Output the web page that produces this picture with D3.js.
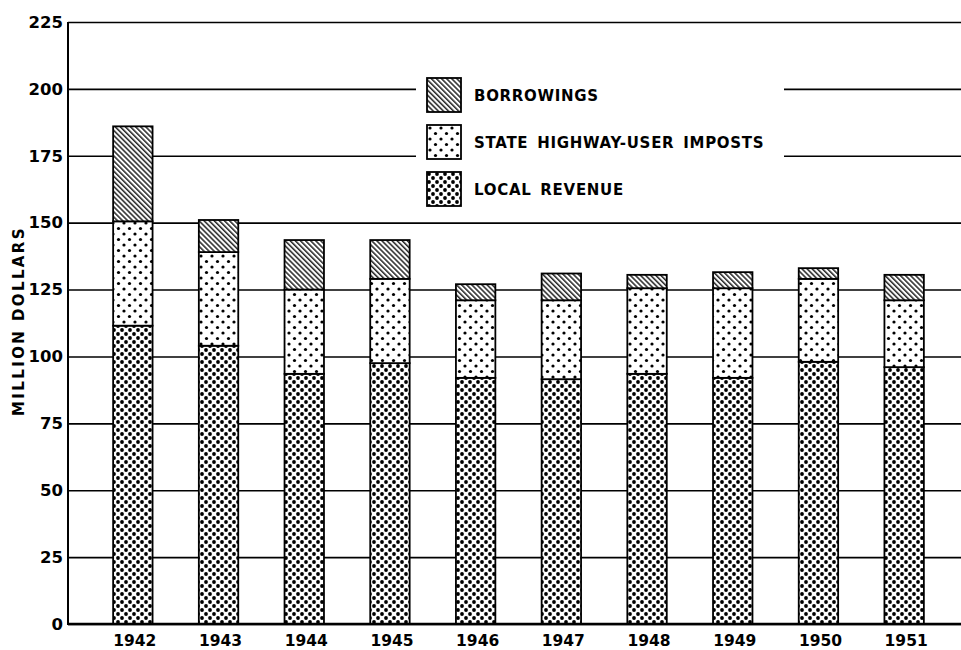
<!DOCTYPE html>
<html>
<head>
  <meta charset="utf-8">
  <title>Highway revenue 1942-1951</title>
  <script src="https://cdn.jsdelivr.net/npm/d3@7"></script>
  <style>
    body { margin: 0; background: #fff; }
    svg { display: block; font-family: "DejaVu Sans", sans-serif; font-weight: bold; }
    .grid line { stroke: #000; stroke-width: 1.6; }
    .grid path { display: none; }
    .grid text { font-size: 16.5px; fill: #000; font-family: "DejaVu Sans", sans-serif; }
  </style>
</head>
<body>

<svg width="961" height="650"></svg>

<script>
  const years = ['1942','1943','1944','1945','1946','1947','1948','1949','1950','1951'];
  const localRevenue = [111.5, 104, 93.5, 97.5, 92, 91.5, 93.5, 92, 98, 96];
  const stateImposts = [39, 35, 31.5, 31.5, 29, 29.5, 32, 33.5, 31, 25];
  const borrowings   = [35.5, 12, 18.5, 14.5, 6, 10, 5, 6, 4, 9.5];
  const seriesKeys  = ['local', 'state', 'borrow'];
  const seriesNames = ['LOCAL REVENUE', 'STATE HIGHWAY-USER IMPOSTS', 'BORROWINGS'];
  const yTicks = [0, 25, 50, 75, 100, 125, 150, 175, 200, 225];

  const rows = years.map((yr, i) => ({
    year: yr, local: localRevenue[i], state: stateImposts[i], borrow: borrowings[i]
  }));

  const svg = d3.select('svg');
  const plotL = 68, plotR = 961, plotT = 22, plotB = 624;

  const x = d3.scaleBand().domain(years).range([90, 947])
    .paddingInner(0.54).paddingOuter(0.27);
  const y = d3.scaleLinear().domain([0, 225]).range([plotB, plotT]);

  // fill patterns
  const defs = svg.append('defs');
  const hatch = defs.append('pattern').attr('id', 'p-borrow')
    .attr('patternUnits', 'userSpaceOnUse').attr('width', 8).attr('height', 3.6)
    .attr('patternTransform', 'rotate(45)');
  hatch.append('rect').attr('width', 8).attr('height', 3.6).attr('fill', '#fff');
  hatch.append('line').attr('x1', 0).attr('x2', 8).attr('y1', 1).attr('y2', 1)
    .attr('stroke', '#000').attr('stroke-width', 1.3);

  const sparse = defs.append('pattern').attr('id', 'p-state')
    .attr('patternUnits', 'userSpaceOnUse').attr('width', 11).attr('height', 11);
  sparse.append('rect').attr('width', 11).attr('height', 11).attr('fill', '#fff');
  [[3, 3], [8.5, 8.5]].forEach(c => sparse.append('circle')
    .attr('cx', c[0]).attr('cy', c[1]).attr('r', 1.6).attr('fill', '#000'));

  const dense = defs.append('pattern').attr('id', 'p-local')
    .attr('patternUnits', 'userSpaceOnUse').attr('width', 8).attr('height', 8);
  dense.append('rect').attr('width', 8).attr('height', 8).attr('fill', '#fff');
  [[2, 2], [6, 6]].forEach(c => dense.append('circle')
    .attr('cx', c[0]).attr('cy', c[1]).attr('r', 1.9).attr('fill', '#000'));

  // gridlines + tick labels
  svg.append('g')
    .attr('class', 'grid')
    .attr('transform', `translate(${plotL},0)`)
    .call(d3.axisLeft(y).tickValues(yTicks).tickSize(-(plotR - plotL)).tickPadding(5));

  // legend background hides the grid behind it
  svg.append('rect').attr('x', 416).attr('y', 70).attr('width', 368).attr('height', 145)
    .attr('fill', '#fff');

  // stacked bars
  const stack = d3.stack().keys(seriesKeys)(rows);
  svg.append('g').selectAll('g').data(stack).enter().append('g')
      .attr('fill', d => `url(#p-${d.key})`)
    .selectAll('rect').data(d => d).enter().append('rect')
      .attr('x', d => x(d.data.year))
      .attr('width', x.bandwidth())
      .attr('y', d => y(d[1]))
      .attr('height', d => y(d[0]) - y(d[1]))
      .attr('stroke', '#000')
      .attr('stroke-width', 1.8);

  // axes lines
  svg.append('line').attr('x1', plotL).attr('x2', plotL).attr('y1', plotT).attr('y2', plotB + 1)
    .attr('stroke', '#000').attr('stroke-width', 2);
  svg.append('line').attr('x1', plotL).attr('x2', plotR).attr('y1', plotB).attr('y2', plotB)
    .attr('stroke', '#000').attr('stroke-width', 2.5);

  // year labels
  svg.append('g').selectAll('text').data(years).enter().append('text')
    .attr('x', d => x(d) + x.bandwidth() / 2 + 2)
    .attr('y', 646)
    .attr('text-anchor', 'middle')
    .attr('font-size', 15.5)
    .text(d => d);

  // y title
  svg.append('text')
    .attr('transform', 'translate(23.5,321) rotate(-90)')
    .attr('text-anchor', 'middle')
    .attr('font-size', 15)
    .attr('letter-spacing', 2.4)
    .text('MILLION DOLLARS');

  // legend
  const legend = svg.append('g').selectAll('g')
    .data(seriesKeys.slice().reverse()).enter().append('g')
      .attr('transform', (d, i) => `translate(427,${78 + i * 47})`);
  legend.append('rect').attr('width', 34).attr('height', 34)
    .attr('fill', d => `url(#p-${d})`).attr('stroke', '#000').attr('stroke-width', 1.8);
  legend.append('text')
    .attr('x', 47).attr('y', 22.5)
    .attr('font-size', 15)
    .attr('letter-spacing', 0.7)
    .attr('word-spacing', 3)
    .text(d => seriesNames[seriesKeys.indexOf(d)]);
</script>

</body>
</html>
